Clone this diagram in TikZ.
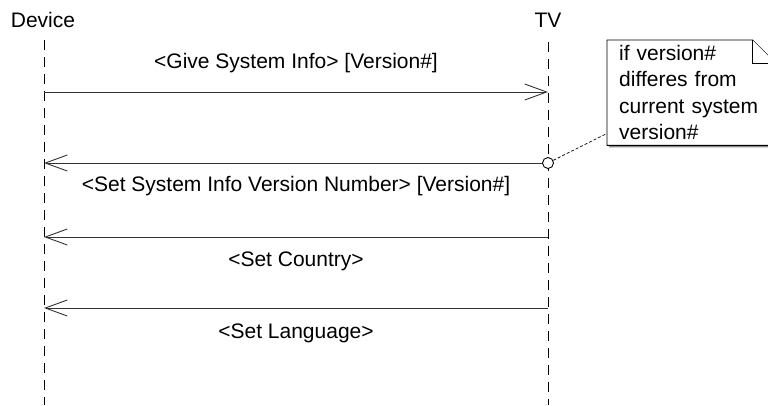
\documentclass[tikz,border=0pt]{standalone}
\usepackage{fontspec}
\setmainfont{Liberation Sans}
\usepackage{tikz}
\usetikzlibrary{arrows.meta,calc,positioning}
\definecolor{SeqLine}{HTML}{333333}
\definecolor{SeqShadow}{HTML}{8A8A8A}
\tikzset{
  actorname/.style={font=\fontsize{21}{25}\selectfont,inner sep=0pt},
  lifeline/.style={draw=black,line width=1pt,dash pattern=on 10pt off 7pt},
  msg/.style={-{Straight Barb[length=22pt,width=16pt,line width=0.9pt]},line width=1pt,draw=SeqLine},
  msglabel/.style={font=\fontsize{21}{25}\selectfont,inner sep=0pt},
  condmark/.style={circle,draw=black,line width=0.9pt,minimum size=11pt,inner sep=0pt,fill=white},
  notetext/.style={font=\fontsize{21}{26.5}\selectfont,align=left,text width=144pt,
    inner xsep=12pt,inner ysep=4pt,minimum width=168pt,minimum height=105pt},
  notebox/.style={draw=black,line width=0.9pt,fill=white},
  notelink/.style={draw=black,line width=0.7pt,dash pattern=on 3pt off 2pt}
}
\begin{document}
\begin{tikzpicture}[x=1pt,y=-1pt]
  \useasboundingbox (0,0) rectangle (768,405);

  % actors and lifelines
  \node[actorname] (device) at (43,20) {Device};
  \node[actorname] (tv) at (548,20) {TV};
  \coordinate (devtop) at (44,40);
  \coordinate (devbot) at (44,405);
  \coordinate (tvtop) at (548,42);
  \coordinate (tvbot) at (548,405);
  \draw[lifeline] (devtop) -- (devbot);
  \draw[lifeline] (tvtop) -- (tvbot);

  % message ends on the lifelines
  \coordinate (dev1) at (44,92);   \coordinate (tv1) at (548,92);
  \coordinate (dev2) at (44,163);
  \coordinate (dev3) at (44,237);  \coordinate (tv3) at (548,237);
  \coordinate (dev4) at (44,308);  \coordinate (tv4) at (548,308);
  \node[condmark] (cond) at (548,163) {};

  \draw[msg] (dev1) -- (tv1);
  \draw[msg] (cond.west) -- (dev2);
  \draw[msg] (tv3) -- (dev3);
  \draw[msg] (tv4) -- (dev4);

  \node[msglabel] (give) at (296,63) {<Give System Info> [Version\#]};
  \node[msglabel] (setver) at (296,186) {<Set System Info Version Number> [Version\#]};
  \node[msglabel] (setcountry) at (296,261) {<Set Country>};
  \node[msglabel] (setlang) at (296,333) {<Set Language>};

  % note with folded corner
  \node[notetext,anchor=north west] (note) at (607,40) {if version\#\\differes from\\current system\\version\#};
  \fill[SeqShadow] ([shift={(2pt,-2pt)}]note.north west) -- ([shift={(-21pt,-2pt)}]note.north east)
    -- ([shift={(2pt,-25pt)}]note.north east) -- ([shift={(2pt,-2pt)}]note.south east)
    -- ([shift={(2pt,-2pt)}]note.south west) -- cycle;
  \draw[notebox] (note.north west) -- ([xshift=-23pt]note.north east) -- ([yshift=-23pt]note.north east)
    -- (note.south east) -- (note.south west) -- cycle;
  \draw[notebox] ([xshift=-23pt]note.north east) |- ([yshift=-23pt]note.north east);
  \node[notetext,anchor=north west] at (607,40) {if version\#\\differes from\\current system\\version\#};
  \draw[notelink] (cond) -- ([yshift=12pt]note.south west);
\end{tikzpicture}
\end{document}
